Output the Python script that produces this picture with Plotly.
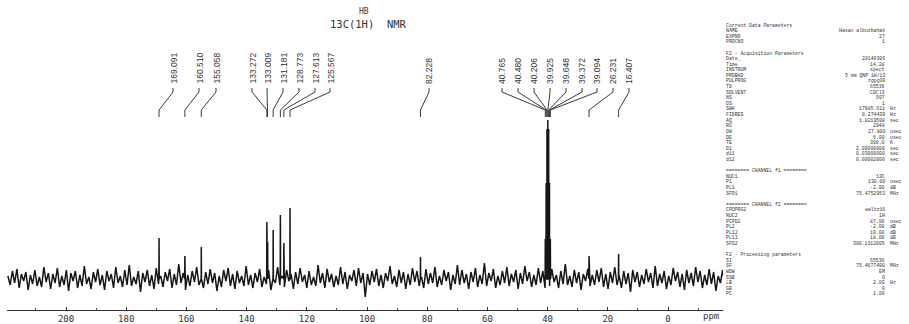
import numpy as np
import plotly.graph_objects as go

# ---------------- data ----------------
peak_ppm = [169.091, 160.510, 155.058, 133.272, 133.009, 131.181, 128.773, 127.613, 125.567,
            82.228, 40.765, 40.480, 40.206, 39.925, 39.648, 39.372, 39.094, 26.231, 16.407]
peak_height = [41, 23, 32, 57, 37, 49, 64, 36, 71,
               22, 40, 96, 150, 159, 150, 96, 40, 23, 25]

noise = [
    3, -6, 8, -4, 10, -9, 5, -2, 7, -11, 4, -5, 9, -7, 2, -8, 12, -3, 6, -10,
    5, -4, 11, -8, 3, -6, 9, -12, 6, -2, 8, -9, 4, -7, 13, -5, 2, -10, 7, -3,
    10, -6, 4, -11, 8, -2, 5, -9, 12, -4, 3, -8, 9, -6, 14, -7, 2, -5, 8, -13,
    6, -3, 9, -7, 4, -10, 11, -5, 3, -8, 7, -2, 10, -9, 5, -6, 15, -4, 6, -11,
    4, -7, 8, -3, 12, -6, 2, -9, 7, -5, 10, -4, 6, -12, 3, -8, 9, -2, 11, -7,
    5, -10, 8, -4, 3, -7, 13, -6, 4, -9, 6, -3, 10, -8, 2, -5, 9, -11, 7, -4,
    12, -6, 3, -8, 9, -2, 5, -10, 7, -5, 11, -3, 4, -9, 8, -6, 2, -7, 14, -4,
    6, -9, 10, -3, 5, -8, 3, -6, 12, -5, 7, -10, 4, -2, 9, -7, 11, -4, 6, -18,
    5, -6, 8, -3, 10, -7, 4, -9, 6, -2, 13, -5, 3, -8, 9, -4, 7, -10, 5, -6,
    11, -3, 8, -7, 2, -9, 10, -5, 6, -4, 12, -8, 3, -6, 9, -2, 7, -11, 4, -5,
    14, -6, 9, -4, 5, -10, 7, -3, 11, -8, 4, -5, 16, -7, 6, -2, 10, -9, 3, -6,
    8, -4, 12, -7, 5, -3, 9, -10, 6, -5, 13, -2, 7, -8, 4, -6, 11, -4, 8, -9,
    6, -7, 10, -3, 4, -9, 8, -5, 15, -6, 3, -8, 9, -4, 7, -11, 5, -2, 10, -7,
    4, -6, 9, -3, 11, -8, 5, -10, 7, -4, 12, -6, 3, -9, 8, -5, 6, -13, 9, -3,
    7, -8, 4, -5, 10, -3, 6, -9, 13, -7, 5, -4, 8, -10, 3, -6, 11, -2, 7, -8,
    5, -11, 9, -4, 6, -7, 12, -3, 8, -9, 4, -6, 10, -5, 7, -12, 3, -4, 9, -6,
]
spec_start_ppm = 219.3
spec_end_ppm = -18.9

tick_values = [200, 180, 160, 140, 120, 100, 80, 60, 40, 20, 0]
tick_text = [str(v) for v in tick_values]
axis_unit = "ppm"

title_lines = ["HB", "13C(1H)\u00a0\u00a0NMR"]

param_rows = [
    ("Current Data Parameters", "", ""),
    ("NAME", "Hasan albuzbahak", ""),
    ("EXPNO", "27", ""),
    ("PROCNO", "1", ""),
    ("", "", ""),
    ("F2 - Acquisition Parameters", "", ""),
    ("Date_", "20140306", ""),
    ("Time", "14.28", ""),
    ("INSTRUM", "spect", ""),
    ("PROBHD", "5 mm QNP 1H/13", ""),
    ("PULPROG", "zgpg30", ""),
    ("TD", "65536", ""),
    ("SOLVENT", "CDCl3", ""),
    ("NS", "507", ""),
    ("DS", "1", ""),
    ("SWH", "17985.611", "Hz"),
    ("FIDRES", "0.274439", "Hz"),
    ("AQ", "1.8219508", "sec"),
    ("RG", "2048", ""),
    ("DW", "27.800", "usec"),
    ("DE", "6.00", "usec"),
    ("TE", "300.0", "K"),
    ("D1", "2.00000000", "sec"),
    ("d11", "0.03000000", "sec"),
    ("d12", "0.00002000", "sec"),
    ("", "", ""),
    ("======== CHANNEL f1 ========", "", ""),
    ("NUC1", "13C", ""),
    ("P1", "130.00", "usec"),
    ("PL1", "-2.00", "dB"),
    ("SFO1", "75.4752953", "MHz"),
    ("", "", ""),
    ("======== CHANNEL f2 ========", "", ""),
    ("CPDPRG2", "waltz16", ""),
    ("NUC2", "1H", ""),
    ("PCPD2", "87.00", "usec"),
    ("PL2", "-2.00", "dB"),
    ("PL12", "10.00", "dB"),
    ("PL13", "18.00", "dB"),
    ("SFO2", "300.1312005", "MHz"),
    ("", "", ""),
    ("F2 - Processing parameters", "", ""),
    ("SI", "65536", ""),
    ("SF", "75.4677490", "MHz"),
    ("WDW", "EM", ""),
    ("SSB", "0", ""),
    ("LB", "2.00", "Hz"),
    ("GB", "0", ""),
    ("PC", "1.00", ""),
]

# ---------------- layout constants (pixels) ----------------
W, H = 909, 324
PL, PR = 7, 723          # plot area left/right px
PB = 310                 # axis line px
BASE = 279               # spectrum baseline px
PX_PER_PPM = 3.01
ZERO_PX = 668
X_LEFT = (ZERO_PX - PL) / PX_PER_PPM
X_RIGHT = (ZERO_PX - PR) / PX_PER_PPM

# label slot positions (px) for the peak list, left to right
label_slots_px = [173, 199, 216, 252, 267, 283, 299, 315, 330,
                  429, 502, 518, 534, 550, 566, 582, 597, 613, 629]


def ppm_of_px(px):
    return (ZERO_PX - px) / PX_PER_PPM


def yv(py):  # px from top -> y data value
    return BASE - py


def paper_x(px):
    return (px - PL) / (PR - PL)


def paper_y(py):
    return (PB - py) / PB


# ---------------- spectrum ----------------
nx = np.linspace(spec_start_ppm, spec_end_ppm, len(noise))
pts = list(zip(nx.tolist(), [float(v) for v in noise]))
eps = 0.06
for p, h in zip(peak_ppm, peak_height):
    pts += [(p + eps, 0.0), (p, float(h)), (p - eps, 0.0)]
pts.sort(key=lambda t: -t[0])
sx = [t[0] for t in pts]
sy = [t[1] for t in pts]

fig = go.Figure()
fig.add_trace(go.Scatter(x=sx, y=sy, mode="lines",
                         line=dict(color="#161616", width=1.5), hoverinfo="skip"))

# connectors
cx, cy = [], []
for p, slot in zip(peak_ppm, label_slots_px):
    lx = ppm_of_px(slot)
    cx += [lx, lx, p, p, None]
    cy += [yv(88), yv(92), yv(110), yv(117), None]
fig.add_trace(go.Scatter(x=cx, y=cy, mode="lines",
                         line=dict(color="#3a3a3a", width=1), hoverinfo="skip"))

annotations = []
for p, slot in zip(peak_ppm, label_slots_px):
    annotations.append(dict(
        x=ppm_of_px(slot), y=yv(85), xref="x", yref="y",
        text=f"{p:.3f}", textangle=-90, showarrow=False, borderpad=0,
        xanchor="center", yanchor="bottom",
        font=dict(family="Liberation Sans", size=8.5, color="#333")))

# title
annotations.append(dict(x=paper_x(364), y=paper_y(12), xref="paper", yref="paper",
                        text=title_lines[0], showarrow=False, xanchor="center", yanchor="middle",
                        borderpad=0,
                        font=dict(family="DejaVu Sans Mono", size=8, color="#333")))
annotations.append(dict(x=paper_x(368), y=paper_y(24), xref="paper", yref="paper",
                        text=title_lines[1], showarrow=False, xanchor="center", yanchor="middle",
                        borderpad=0,
                        font=dict(family="DejaVu Sans Mono", size=10.5, color="#333")))

# axis unit
annotations.append(dict(x=paper_x(711), y=paper_y(316), xref="paper", yref="paper",
                        text=axis_unit, showarrow=False, xanchor="center", yanchor="middle",
                        borderpad=0,
                        font=dict(family="DejaVu Sans Mono", size=9, color="#333")))

# parameter panel
pfont = dict(family="Liberation Mono", size=4.8, color="#333")
for i, (lab, val, unit) in enumerate(param_rows):
    py = 25 + i * 5.6
    if lab:
        annotations.append(dict(x=paper_x(725), y=paper_y(py), xref="paper", yref="paper",
                                text=lab, showarrow=False, xanchor="left", yanchor="middle",
                                borderpad=0, font=pfont))
    if val:
        annotations.append(dict(x=paper_x(886), y=paper_y(py), xref="paper", yref="paper",
                                text=val, showarrow=False, xanchor="right", yanchor="middle",
                                borderpad=0, font=pfont))
    if unit:
        annotations.append(dict(x=paper_x(889), y=paper_y(py), xref="paper", yref="paper",
                                text=unit, showarrow=False, xanchor="left", yanchor="middle",
                                borderpad=0, font=pfont))

fig.update_layout(
    width=W, height=H,
    margin=dict(l=PL, r=W - PR, t=0, b=H - PB),
    paper_bgcolor="white", plot_bgcolor="white",
    showlegend=False,
    annotations=annotations,
    xaxis=dict(range=[X_LEFT, X_RIGHT], tickmode="array", tickvals=tick_values,
               ticktext=tick_text, ticks="inside", ticklen=3, tickcolor="#333",
               showline=True, linecolor="#333", linewidth=1, showgrid=False, zeroline=False,
               tickfont=dict(family="DejaVu Sans Mono", size=9, color="#333"),
               minor=dict(tickvals=[v + 10 for v in tick_values] + [-10], ticks="inside",
                          ticklen=2, tickcolor="#555")),
    yaxis=dict(range=[yv(PB), yv(0)], visible=False, showgrid=False, zeroline=False),
)

fig.write_html("out.html")
